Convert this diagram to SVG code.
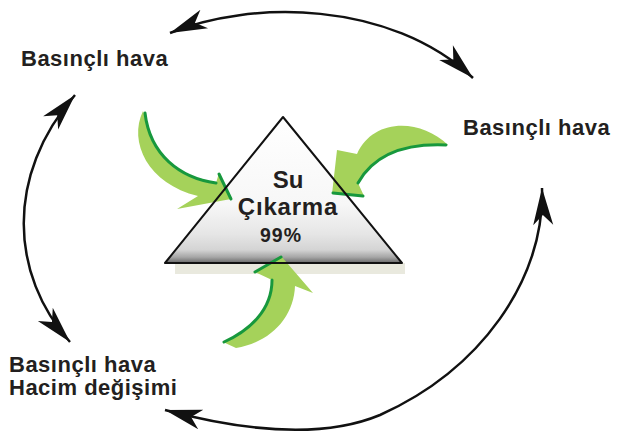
<svg xmlns="http://www.w3.org/2000/svg" width="617" height="434" viewBox="0 0 617 434">
  <style>
    .lbl { font-family: "Liberation Sans", Arial, sans-serif; font-weight: bold; font-size: 22px; letter-spacing: 0.5px; fill: #231f20; }
    .ctr { font-family: "Liberation Sans", Arial, sans-serif; font-weight: bold; fill: #231f20; text-anchor: middle; }
    .arc { fill: none; stroke: #111; stroke-width: 2.5; marker-start: url(#ah); marker-end: url(#ah); }
    .gfill { fill: #a5d25a; }
    .gedge { fill: none; stroke: #17983d; stroke-width: 3; stroke-linecap: round; }
  </style>
  <defs>
    <marker id="ah" markerUnits="userSpaceOnUse" viewBox="-40 -12 42 24" markerWidth="42" markerHeight="24" refX="0" refY="0" orient="auto-start-reverse">
      <path d="M0,0 L-37,-10 L-27,0 L-37,10 Z" fill="#111"/>
    </marker>
    <linearGradient id="tri" gradientUnits="userSpaceOnUse" x1="0" y1="117" x2="0" y2="263">
      <stop offset="0" stop-color="#ffffff"/>
      <stop offset="0.6" stop-color="#f7f7f7"/>
      <stop offset="0.8" stop-color="#e6e6e6"/>
      <stop offset="0.91" stop-color="#d4d4d4"/>
      <stop offset="0.96" stop-color="#a6a6a6"/>
      <stop offset="1" stop-color="#686868"/>
    </linearGradient>
  </defs>

  <g id="triangle">
    <rect x="175" y="263" width="230" height="11" fill="#e9e9de"/>
    <polygon points="283,117 165,263 402,263" fill="url(#tri)"/>
  </g>

  <g id="green-arrows">
    <g id="green-left">
      <path class="gfill" d="M143 111 C128 142, 148 184, 198 196 L177 209 L231 199 L219 173 L216 183 C180 178, 150 155, 146 120 Z"/>
      <path class="gedge" d="M145 113 C150 155, 180 178, 216 183 M219 174 L231 199"/>
    </g>
    <g id="green-right">
      <path class="gfill" d="M448 145 C420 118, 373 118, 357 154 L337 150 L332 194 L364 196 L358 183 C372 158, 400 143, 448 145 Z"/>
      <path class="gedge" d="M358 183 C372 158, 400 143, 446 145 M333 193 L363 196"/>
    </g>
    <g id="green-bottom">
      <path class="gfill" d="M223 342 C250 330, 272 310, 272 280 L255 272 L281 256 L313 293 L295 286 C294 316, 272 342, 236 348 Z"/>
      <path class="gedge" d="M224 342 C250 330, 272 310, 272 280 M255 272 L281 257"/>
    </g>
  </g>

  <g id="triangle-outline">
    <polygon points="283,117 165,263 402,263" fill="none" stroke="#111" stroke-width="2" stroke-linejoin="round"/>
  </g>

  <g id="center-text">
    <text class="ctr" x="288" y="188" font-size="24">Su</text>
    <text class="ctr" x="288" y="215" font-size="24" letter-spacing="0.8">Çıkarma</text>
    <text class="ctr" x="281" y="242" font-size="19.5" letter-spacing="1">99%</text>
  </g>

  <g id="connectors">
    <path class="arc" d="M170 33 C250 0, 390 0, 473 78"/>
    <path class="arc" d="M75 95 C5 175, 10 275, 70 342"/>
    <path class="arc" d="M542 188 C545 280, 480 370, 380 415 C320 440, 240 430, 165 410"/>
  </g>

  <g id="label-top-left">
    <text class="lbl" x="21" y="66">Basınçlı hava</text>
  </g>
  <g id="label-right">
    <text class="lbl" x="463" y="135">Basınçlı hava</text>
  </g>
  <g id="label-bottom-left">
    <text class="lbl" x="9" y="372">Basınçlı hava</text>
    <text class="lbl" x="9" y="395">Hacim değişimi</text>
  </g>
</svg>
